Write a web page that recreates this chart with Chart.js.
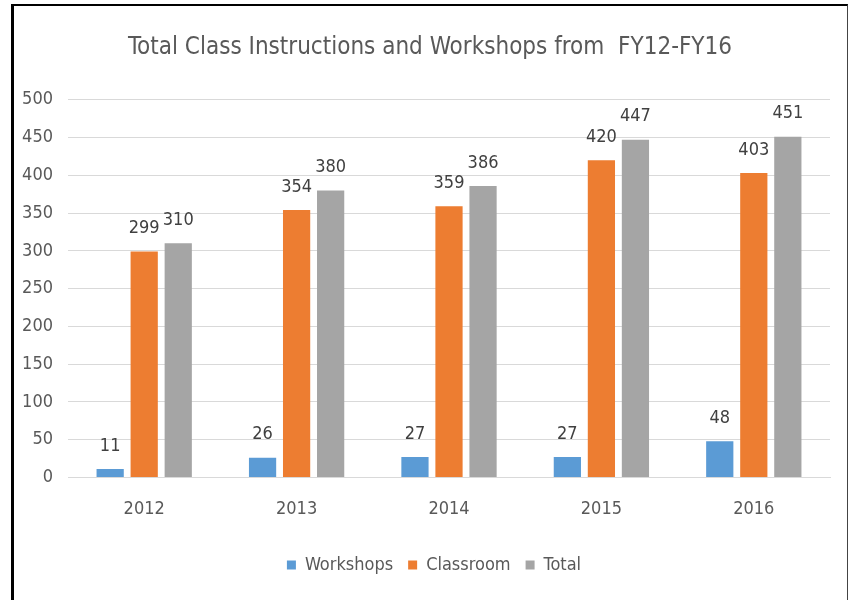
<!DOCTYPE html>
<html>
<head>
<meta charset="utf-8">
<script src="https://cdn.jsdelivr.net/npm/chart.js@4"></script>
<style>
    html, body { margin: 0; padding: 0; background: #fff; }
    #wrap { position: relative; width: 850px; height: 600px; }
    #frame {
        position: absolute; left: 11px; top: 4px; width: 833px; height: 600px;
        border-top: 2px solid #000; border-left: 3px solid #000; border-right: 1px solid #444;
        pointer-events: none;
    }
</style>
</head>
<body>
<div id="wrap">
    <canvas id="chart" width="850" height="600"></canvas>
    <div id="frame"></div>
</div>
<script>
// Chart data
const years = ['2012', '2013', '2014', '2015', '2016'];
const workshops = [11, 26, 27, 27, 48];
const classroom = [299, 354, 359, 420, 403];
const total = [310, 380, 386, 447, 451];
const yTicks = [0, 50, 100, 150, 200, 250, 300, 350, 400, 450, 500];

const FONT = '"Liberation Sans Narrow", "DejaVu Sans Condensed", sans-serif';

// Draw value labels above each bar
const valueLabels = {
    id: 'valueLabels',
    afterDatasetsDraw(chart) {
        const ctx = chart.ctx;
        ctx.save();
        ctx.font = '18px ' + FONT;
        ctx.fillStyle = '#404040';
        ctx.textAlign = 'center';
        ctx.textBaseline = 'bottom';
        chart.data.datasets.forEach((ds, i) => {
            chart.getDatasetMeta(i).data.forEach((bar, j) => {
                ctx.fillText(ds.data[j], bar.x, bar.y - 14);
            });
        });
        ctx.restore();
    }
};

// The original title and legend sit a bit right of the canvas centre
const nudgeBlocks = {
    id: 'nudgeBlocks',
    afterLayout(chart) {
        if (chart.titleBlock) { chart.titleBlock.left += 15; chart.titleBlock.right += 15; }
        if (chart.legend) { chart.legend.left += 19; chart.legend.right += 19; }
    }
};

new Chart(document.getElementById('chart').getContext('2d'), {
    type: 'bar',
    data: {
        labels: years,
        datasets: [
            { label: 'Workshops', data: workshops, backgroundColor: '#5B9BD5' },
            { label: 'Classroom', data: classroom, backgroundColor: '#ED7D31' },
            { label: 'Total', data: total, backgroundColor: '#A5A5A5' }
        ]
    },
    options: {
        responsive: false,
        animation: false,
        categoryPercentage: 0.67,
        barPercentage: 0.8,
        layout: { padding: { left: 0, right: 20, top: 22, bottom: 16 } },
        plugins: {
            title: {
                display: true,
                text: 'Total Class Instructions and Workshops from  FY12-FY16',
                color: '#595959',
                font: { family: FONT, size: 24, weight: 'normal' },
                padding: { top: 11, bottom: 38 }
            },
            legend: {
                position: 'bottom',
                labels: {
                    color: '#595959',
                    font: { family: FONT, size: 18 },
                    boxWidth: 9,
                    boxHeight: 9,
                    padding: 15
                }
            },
            tooltip: { enabled: false }
        },
        scales: {
            x: {
                grid: { display: false },
                border: { color: '#D9D9D9', width: 1 },
                ticks: { color: '#595959', font: { family: FONT, size: 18 }, padding: 13 },
                afterFit(axis) { axis.height += 8; }
            },
            y: {
                min: 0,
                max: 500,
                afterBuildTicks(axis) { axis.ticks = yTicks.map(v => ({ value: v })); },
                afterFit(axis) { axis.width = 68; },
                grid: { color: '#D9D9D9', drawTicks: false },
                border: { display: false },
                ticks: { color: '#595959', font: { family: FONT, size: 18 }, padding: 15 }
            }
        }
    },
    plugins: [valueLabels, nudgeBlocks]
});
</script>
</body>
</html>
